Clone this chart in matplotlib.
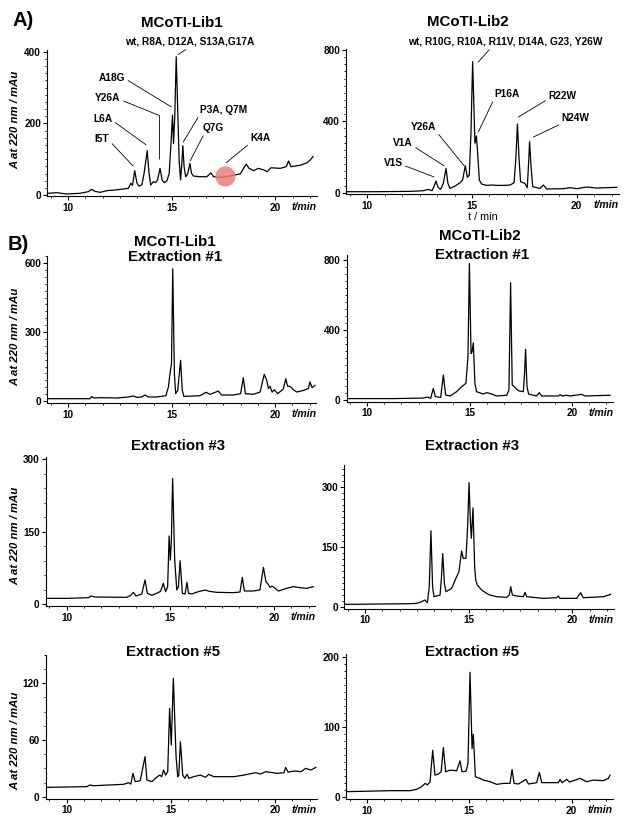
import matplotlib
matplotlib.use('Agg')
import matplotlib.pyplot as plt
from matplotlib.ticker import MultipleLocator, AutoMinorLocator

plt.rcParams['font.family'] = 'Liberation Sans'
plt.rcParams['font.weight'] = 'bold'

# ---- data (t in min, A220 in mAu) ----
lib1_t = [9.05, 9.45, 9.94, 10.58, 10.98, 11.14, 11.30, 11.55, 11.87, 12.27, 12.67, 12.91,
          13.03, 13.11, 13.22, 13.32, 13.41, 13.56, 13.67, 13.82, 13.91, 13.99, 14.12, 14.22,
          14.32, 14.44, 14.54, 14.64, 14.77, 14.88, 14.96, 15.04, 15.09, 15.15, 15.22, 15.28,
          15.36, 15.43, 15.49, 15.54, 15.60, 15.68, 15.78, 15.88, 15.96, 16.05, 16.38, 16.70,
          16.89, 17.02, 17.34, 17.99, 18.31, 18.60, 18.73, 18.95, 19.19, 19.44, 19.60, 19.79,
          20.24, 20.53, 20.64, 20.76, 21.21, 21.53, 21.69, 21.82]
lib1_y = [4.7, 6.5, 2.8, 4.7, 9.3, 15.8, 10.2, 7.4, 12.1, 14.0, 16.7, 18.6,
          32.6, 27, 67.9, 34.4, 25.1, 27.9, 60, 123.7, 60, 27.9, 37.2, 34.4,
          41.9, 74.4, 41.9, 34.4, 39.1, 60, 135, 223, 144, 218, 386, 265,
          97.7, 41.9, 88, 137.6, 79, 51, 60, 88, 60, 53, 51, 51,
          62, 51, 49, 55, 59, 86.5, 74.4, 68, 74.4, 70, 65, 76,
          74.4, 79, 95, 79, 83, 90, 98, 107]

lib2_t = [9.04, 10.45, 12.04, 12.68, 12.91, 13.09, 13.18, 13.28, 13.38, 13.50, 13.63, 13.76,
          13.85, 13.95, 14.19, 14.43, 14.55, 14.68, 14.78, 14.87, 14.95, 15.03, 15.10, 15.14,
          15.21, 15.27, 15.35, 15.46, 15.70, 15.94, 16.18, 16.50, 16.82, 17.01, 17.09, 17.17,
          17.25, 17.32, 17.53, 17.64, 17.71, 17.75, 17.82, 17.90, 18.25, 18.41, 18.57, 19.36,
          19.68, 20.00, 20.48, 20.96, 21.91]
lib2_y = [5.6, 5.6, 7.5, 11.2, 18.7, 11.2, 33.6, 65.4, 30, 18.7, 52, 136,
          52, 24.3, 37.4, 56, 71, 151, 86, 99, 333, 735, 445, 277,
          318, 220, 71, 48.6, 41, 43, 41, 41, 43, 56, 183, 385,
          183, 61.7, 52, 28, 183, 286, 146, 33.6, 24.3, 43, 20.6, 22.4,
          28, 22.4, 31.8, 26.2, 30]

ex1_lib1_t = [9.05, 11.06, 11.14, 11.26, 11.55, 12.35, 12.91, 13.16, 13.32, 13.56, 13.72, 13.88,
              14.28, 14.73, 14.85, 14.93, 15.00, 15.06, 15.14, 15.20, 15.30, 15.44, 15.52, 15.60,
              16.38, 16.67, 16.86, 17.26, 17.42, 17.99, 18.34, 18.47, 18.57, 18.95, 19.28, 19.48,
              19.60, 19.68, 19.76, 19.86, 19.97, 20.13, 20.40, 20.52, 20.61, 20.72, 20.89, 21.05,
              21.37, 21.61, 21.69, 21.79, 21.93]
ex1_lib1_y = [10, 10, 19, 13, 14.5, 13, 17.4, 21.7, 16, 17.4, 26, 17.4,
              17.4, 23, 61, 122, 162, 575, 119, 32, 46, 177, 46, 20,
              23, 38, 29, 43, 26, 26, 32, 101, 32, 29, 39, 116,
              90, 54, 64, 39, 49, 32, 52, 97, 64, 64, 49, 39,
              46, 54, 83, 58, 68]

ex1_lib2_t = [9.0, 11.27, 12.73, 12.93, 13.09, 13.22, 13.32, 13.58, 13.71, 13.82, 14.03, 14.36,
              14.60, 14.81, 14.91, 14.98, 15.06, 15.11, 15.17, 15.25, 15.33, 15.66, 15.82, 16.07,
              16.31, 16.80, 16.91, 16.99, 17.07, 17.17, 17.37, 17.61, 17.67, 17.72, 17.79, 17.87,
              18.26, 18.39, 18.50, 19.32, 19.40, 19.51, 19.72, 19.89, 20.46, 20.62, 21.84]
ex1_lib2_y = [8, 8, 11, 17, 9.5, 66.5, 19, 15, 142.5, 28.5, 23, 47.5,
              76, 95, 247, 780, 266, 275, 327, 95, 47.5, 34, 42, 34,
              23, 27, 57, 670, 85.5, 76, 53, 47.5, 152, 289, 76, 34,
              23, 42, 23, 23, 30, 23, 27, 23, 32, 23, 27]

ex3_lib1_t = [9.0, 10.0, 11.05, 11.16, 11.37, 12.89, 13.09, 13.22, 13.34, 13.62, 13.78, 13.89,
              14.10, 14.34, 14.53, 14.66, 14.77, 14.87, 14.94, 15.00, 15.05, 15.11, 15.21, 15.31,
              15.39, 15.47, 15.58, 15.71, 15.80, 15.88, 16.03, 16.35, 16.67, 16.88, 17.23, 18.04,
              18.36, 18.47, 18.57, 19.00, 19.32, 19.49, 19.61, 19.71, 19.81, 19.90, 20.00, 20.21,
              20.61, 20.93, 21.25, 21.58, 21.90]
ex3_lib1_y = [11.7, 11.7, 13.1, 16.6, 14.5, 13.8, 18, 24.2, 16.6, 20.7, 49.8, 22.1,
              18, 22.1, 26.3, 42.8, 25.6, 35.9, 141, 91.2, 132.7, 260.5, 91.2, 29,
              35.9, 89.8, 22.1, 20.7, 44.9, 22.1, 20.7, 25.6, 29, 26.3, 24.2, 23.5,
              24.9, 55.3, 27, 27, 29, 76, 46.3, 41.5, 34.5, 37.3, 34.5, 27,
              32.5, 36, 33.9, 32.5, 36]

ex3_lib2_t = [9.04, 12.17, 12.49, 12.73, 12.89, 13.01, 13.10, 13.18, 13.26, 13.33, 13.62, 13.68,
              13.75, 13.83, 13.91, 14.18, 14.42, 14.53, 14.66, 14.74, 14.87, 14.95, 15.02, 15.08,
              15.13, 15.21, 15.29, 15.34, 15.42, 15.63, 15.87, 16.03, 16.35, 16.83, 16.96, 17.03,
              17.11, 17.32, 17.64, 17.72, 17.80, 18.60, 19.24, 19.32, 19.41, 20.21, 20.40, 20.53,
              20.85, 21.50, 21.74, 21.85]
ex3_lib2_y = [5.8, 7.5, 8.3, 12.5, 16.7, 10, 50, 190, 50, 25, 29, 66.6,
              133, 58, 37.5, 45.8, 75, 87.5, 139, 121, 121, 200, 310, 216.6,
              171, 247, 100, 66.6, 54, 41.6, 33.3, 29, 25, 23.3, 29, 50,
              29, 26.7, 25, 35.8, 25, 20.8, 22.5, 26.7, 20.8, 20.8, 35, 22.5,
              23.3, 25, 29, 30.8]

ex5_lib1_t = [9.0, 10.96, 11.12, 11.28, 12.73, 12.97, 13.08, 13.18, 13.29, 13.53, 13.76, 13.85,
              14.09, 14.25, 14.46, 14.56, 14.65, 14.75, 14.85, 14.94, 15.02, 15.12, 15.25, 15.33,
              15.38, 15.46, 15.57, 15.67, 15.78, 15.87, 16.10, 16.42, 16.66, 16.82, 17.06, 18.03,
              18.51, 19.07, 19.31, 19.55, 20.11, 20.43, 20.51, 20.63, 20.91, 21.24, 21.48, 21.72,
              21.96]
ex5_lib1_y = [9.9, 10.6, 12.4, 11.6, 13.1, 14.8, 13.4, 24.7, 15.9, 16.9, 42.4, 17.7,
              15.9, 19.4, 22.9, 21.2, 28.2, 22.9, 26.5, 93.5, 54.7, 125.3, 42.4, 21.2,
              22.9, 58.2, 22.9, 19.4, 23.7, 19.4, 21.2, 22.9, 20.5, 23.7, 21.2, 21.2,
              22.9, 25.4, 24, 26.5, 24.7, 25.4, 31, 26, 27.2, 26.5, 30, 28.2,
              31]

ex5_lib2_t = [9.0, 11.14, 12.11, 12.44, 12.68, 12.85, 12.96, 13.09, 13.22, 13.33, 13.50, 13.63,
              13.74, 13.85, 14.07, 14.39, 14.55, 14.65, 14.85, 14.94, 15.04, 15.14, 15.20, 15.30,
              15.53, 15.69, 16.02, 16.34, 16.67, 16.99, 17.09, 17.19, 17.40, 17.77, 17.89, 18.29,
              18.42, 18.54, 19.35, 19.43, 19.53, 19.76, 19.89, 20.41, 20.73, 21.06, 21.54, 21.79,
              21.87]
ex5_lib2_y = [8, 9.4, 9.4, 11.3, 15.1, 19.8, 17.5, 22.2, 67, 31.6, 33, 36.3,
              70.8, 36.3, 38.7, 37.7, 51.9, 36.3, 37.3, 48, 177.8, 69.3, 89.6, 29.2,
              26.9, 24.5, 22.2, 18.4, 19.8, 19.8, 39.6, 19.8, 18.9, 25.5, 18.9, 20.8,
              35.4, 20.8, 20.8, 25.5, 20.8, 25.5, 21.7, 26.9, 22.2, 24.5, 23.6, 26.9,
              31.6]

# peak labels (text, target t, target A, text t, text A, relpos of line start)
lib1_labels = [
    ('wt, R8A, D12A, S13A,G17A', 15.31, 392, 15.89, 428, (0.5, 0.0)),
    ('A18G', 14.98, 246, 12.13, 327, (1.0, 0.4)),
    ('L6A', 13.77, 140, 11.69, 213, (1.0, 0.3)),
    ('I5T', 13.14, 81, 11.64, 157, (1.0, 0.3)),
    ('P3A, Q7M', 15.56, 148, 17.49, 238, (0.0, 0.0)),
    ('Q7G', 15.89, 95, 17.00, 187, (0.1, 0.0)),
    ('K4A', 17.63, 90, 19.28, 159, (0.0, 0.0)),
]
lib2_labels = [
    ('wt, R10G, R10A, R11V, D14A, G23, Y26W', 15.30, 733, 16.59, 845, (0.43, 0.0)),
    ('P16A', 15.30, 340, 16.68, 553, (0.0, 0.1)),
    ('R22W', 17.21, 424, 19.31, 542, (0.0, 0.2)),
    ('N24W', 17.93, 312, 19.94, 419, (0.05, 0.0)),
    ('Y26A', 14.63, 150, 12.67, 368, (1.0, 0.1)),
    ('V1A', 13.67, 150, 11.71, 279, (1.0, 0.2)),
    ('V1S', 13.19, 88, 11.23, 167, (1.0, 0.3)),
]

W, H = 629, 825
fig = plt.figure(figsize=(W / 100, H / 100), dpi=100)


def make_axes(x10, x20, y0, yref, vref, ylim, major, nminor):
    ppm = (x20 - x10) / 10.0
    ppu = (y0 - yref) / vref
    xlim = (9, 22)
    left = x10 + (xlim[0] - 10) * ppm
    right = x10 + (xlim[1] - 10) * ppm
    bottom = y0 - ylim[0] * ppu
    top = y0 - ylim[1] * ppu
    ax = fig.add_axes([left / W, 1 - bottom / H, (right - left) / W, (bottom - top) / H])
    ax.set_xlim(xlim)
    ax.set_ylim(ylim)
    for s in ['top', 'right']:
        ax.spines[s].set_visible(False)
    for s in ['left', 'bottom']:
        ax.spines[s].set_linewidth(0.8)
    ax.xaxis.set_major_locator(MultipleLocator(5))
    ax.xaxis.set_minor_locator(AutoMinorLocator(6))
    ax.yaxis.set_major_locator(MultipleLocator(major))
    ax.yaxis.set_minor_locator(AutoMinorLocator(nminor))
    ax.tick_params(which='major', length=3, width=0.8, labelsize=7.2, pad=1.5)
    ax.tick_params(which='minor', length=1.6, width=0.6)
    ax.annotate('t/min', xy=(1, 0), xycoords='axes fraction', xytext=(0, -4.3),
                textcoords='offset points', ha='right', va='top', style='italic', fontsize=7.6)
    return ax


def trace(ax, t, y):
    ax.plot(t, y, color='black', lw=0.9)


def label_peaks(ax, labels):
    for txt, xt, yt, xs, ys, rp in labels:
        ax.annotate(txt, xy=(xt, yt), xytext=(xs, ys), ha='center', va='center',
                    fontsize=7.3, annotation_clip=False,
                    arrowprops=dict(arrowstyle='-', lw=0.6, color='black',
                                    shrinkA=0, shrinkB=0, relpos=rp))


# ---- A) ----
ax = make_axes(68, 275.3, 195, 51.7, 400, (-4, 405), 200, 10)
trace(ax, lib1_t, lib1_y)
label_peaks(ax, lib1_labels)
ax.annotate('Y26A', xy=(14.41, 100), xytext=(11.93, 271), ha='center', va='center',
            fontsize=7.3, annotation_clip=False,
            arrowprops=dict(arrowstyle='-', lw=0.6, color='black', shrinkA=0, shrinkB=0,
                            relpos=(1.0, 0.3),
                            connectionstyle='angle,angleA=-22,angleB=90,rad=0'))
ax.plot([17.55], [52], 'o', ms=14.5, color='#f07c7c', alpha=0.85, mec='none', zorder=5)

ax = make_axes(367.3, 576.7, 192.7, 50, 800, (-10, 808), 400, 10)
trace(ax, lib2_t, lib2_y)
label_peaks(ax, lib2_labels)
ax.set_xlabel('t / min', fontsize=7.8, labelpad=1)

# ---- B) ----
ax = make_axes(68, 275, 401, 332, 300, (-10, 632), 300, 10)
trace(ax, ex1_lib1_t, ex1_lib1_y)
ax = make_axes(367.3, 572.3, 400, 260, 800, (-10, 828), 400, 10)
trace(ax, ex1_lib2_t, ex1_lib2_y)
ax = make_axes(66.7, 274, 604, 531.7, 150, (-5, 305), 150, 5)
trace(ax, ex3_lib1_t, ex3_lib1_y)
ax = make_axes(365, 572.3, 606.7, 486.7, 300, (-5, 355), 150, 10)
trace(ax, ex3_lib2_t, ex3_lib2_y)
ax = make_axes(66.7, 275, 796.7, 683.3, 120, (-2, 150), 60, 4)
trace(ax, ex5_lib1_t, ex5_lib1_y)
ax = make_axes(366.7, 571.7, 797.3, 656.7, 200, (-3, 204), 100, 10)
trace(ax, ex5_lib2_t, ex5_lib2_y)


def ftext(x, y, s, **kw):
    fig.text(x / W, 1 - y / H, s, ha='center', va='center', **kw)


ftext(23, 21, 'A)', fontsize=14.5)
ftext(18, 245, 'B)', fontsize=14.5)
ftext(182, 22.7, 'MCoTI-Lib1', fontsize=10.8)
ftext(468, 21.7, 'MCoTI-Lib2', fontsize=10.8)
ftext(175, 241.7, 'MCoTI-Lib1', fontsize=10.8)
ftext(175, 256.7, 'Extraction #1', fontsize=10.8)
ftext(480, 236, 'MCoTI-Lib2', fontsize=10.8)
ftext(482, 255, 'Extraction #1', fontsize=10.8)
ftext(178, 446, 'Extraction #3', fontsize=10.8)
ftext(472, 446, 'Extraction #3', fontsize=10.8)
ftext(173, 652, 'Extraction #5', fontsize=10.8)
ftext(472, 652, 'Extraction #5', fontsize=10.8)
for yc in [120, 337, 536, 741]:
    ftext(15, yc, 'A at 220 nm / mAu', fontsize=8.2, style='italic', rotation=90)

fig.savefig('out.png', dpi=100)
